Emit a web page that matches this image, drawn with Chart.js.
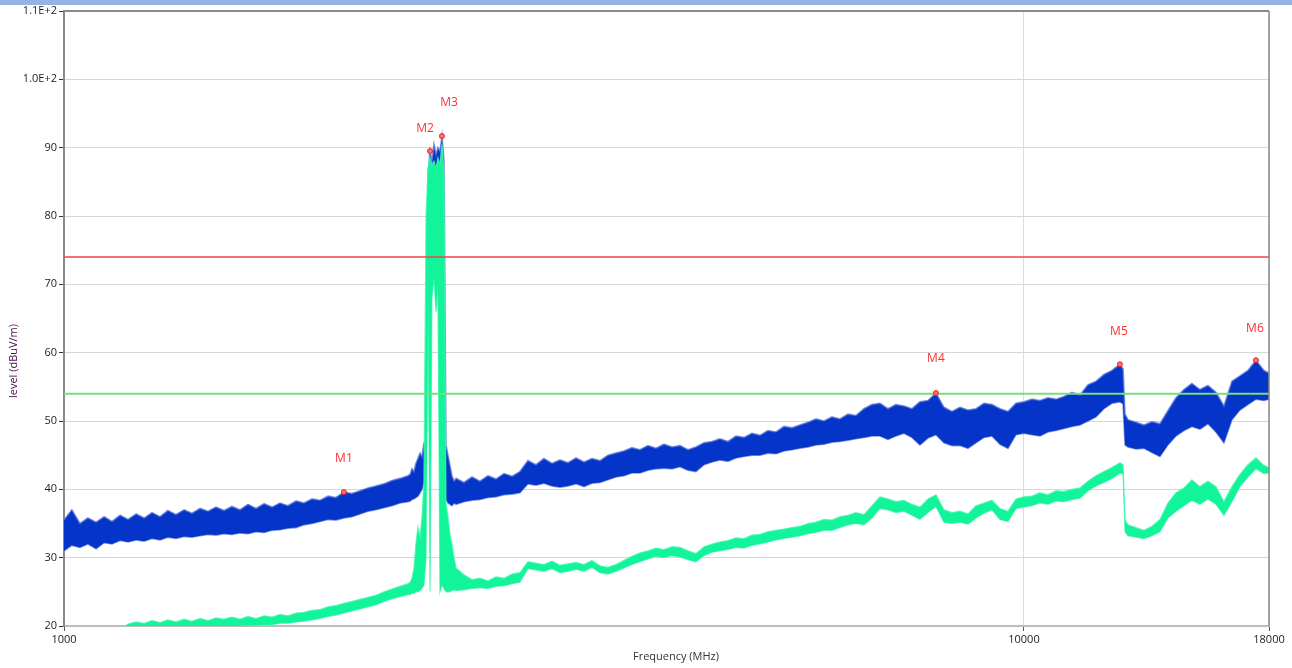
<!DOCTYPE html>
<html>
<head>
<meta charset="utf-8">
<script src="https://cdn.jsdelivr.net/npm/chart.js@4.4.0/dist/chart.umd.min.js"></script>
<style>
  html, body { margin: 0; padding: 0; background: #ffffff; }
  #wrap { position: relative; width: 1292px; height: 668px; overflow: hidden; }
  #topbar { position: absolute; left: 0; top: 0; width: 1292px; height: 5px; background: #93b3e3; z-index: 2; }
  canvas { position: absolute; left: 0; top: 0; }
</style>
</head>
<body>
<div id="wrap">
  <div id="topbar"></div>
  <canvas id="c" width="1292" height="668"></canvas>
</div>
<script>
// ---- data ----
const freqs = [
  1000, 1019, 1039, 1059, 1080, 1101, 1122, 1144, 1166, 1189,
  1212, 1235, 1259, 1283, 1308, 1334, 1359, 1386, 1413, 1440,
  1468, 1496, 1525, 1555, 1585, 1616, 1647, 1679, 1711, 1745,
  1778, 1813, 1848, 1884, 1920, 1957, 1995, 2034, 2073, 2113,
  2154, 2196, 2239, 2282,
  2294, 2304, 2315, 2326, 2337, 2349, 2360, 2371, 2383, 2394, 2406, 2417,
  2429, 2441, 2452, 2464, 2476, 2488, 2500, 2512, 2524, 2536, 2549,
  2561, 2610, 2661, 2712, 2765, 2818, 2873, 2929, 2985, 3043, 3102,
  3162, 3224, 3286, 3350, 3415, 3481, 3548, 3617, 3687, 3758,
  3831, 3905, 3981, 4058, 4137, 4217, 4299, 4382, 4467, 4553,
  4642, 4732, 4823, 4917, 5012, 5109, 5208, 5309, 5412, 5517,
  5623, 5732, 5843, 5957, 6072, 6190, 6310, 6432, 6556, 6683,
  6813, 6945, 7079, 7217, 7356, 7499, 7644, 7792, 7943, 8097,
  8254, 8414, 8577, 8743, 8913, 9085, 9261, 9441, 9624, 9810,
  10000, 10194, 10391, 10593, 10798, 11007, 11220, 11438, 11659, 11885,
  12115, 12350, 12589, 12683, 12744,
  12833, 13082, 13335, 13594, 13857, 14125, 14399,
  14678, 14962, 15252, 15548, 15849, 16156, 16469, 16788, 17113, 17445,
  17783, 18000
];

const peakHigh = [
  35.5, 37.0, 35.0, 35.8, 35.2, 36.0, 35.3, 36.2, 35.6, 36.4,
  35.8, 36.6, 36.0, 36.9, 36.3, 37.0, 36.5, 37.2, 36.8, 37.4,
  36.9, 37.5, 37.0, 37.8, 37.2, 37.9, 37.4, 38.0, 37.6, 38.3,
  38.0, 38.6, 38.4, 39.0, 38.8, 39.6, 39.4, 39.8, 40.2, 40.5,
  40.8, 41.3, 41.6, 42.0,
  42.2, 43.0, 42.6, 43.8, 44.5, 45.3, 44.8, 46.8, 47.0, 86.0, 89.5, 88.0,
  90.5, 89.0, 90.0, 89.5, 91.7, 88.0, 46.5, 45.0, 43.5, 42.0, 41.2,
  41.6, 41.0, 41.8, 41.2, 42.0, 41.5, 42.3, 41.9, 42.6, 44.2, 43.6,
  44.5, 43.8, 44.3, 43.9, 44.6, 44.0, 44.5, 44.2, 45.0, 45.3,
  45.6, 46.1, 45.8, 46.4, 46.0, 46.6, 46.2, 46.4, 45.8, 46.2,
  46.8, 47.0, 47.4, 47.0, 47.8, 47.6, 48.2, 47.9, 48.6, 48.4,
  49.2, 49.0, 49.4, 49.8, 50.3, 50.0, 50.6, 50.3, 51.0, 50.8,
  51.8, 52.4, 52.6, 51.8, 52.4, 52.2, 51.8, 52.8, 53.0, 54.1,
  52.0, 51.4, 52.0, 51.6, 51.8, 52.6, 52.4, 51.8, 51.4, 52.6,
  52.8, 53.2, 53.0, 53.4, 53.2, 53.6, 54.2, 53.8, 55.3, 55.8,
  56.8, 57.4, 58.3, 57.6, 51.0,
  50.2, 49.8, 49.4, 49.9, 49.6, 51.5, 53.4,
  54.6, 55.5, 54.6, 55.2, 54.2, 52.2, 55.8, 56.6, 57.4, 58.9,
  57.4, 57.0
];

const peakLow = [
  31.0, 31.8, 31.5, 32.0, 31.3, 32.2, 32.0, 32.5, 32.3, 32.6,
  32.4, 32.8, 32.6, 33.0, 32.8, 33.1, 33.0, 33.2, 33.4, 33.3,
  33.5, 33.4, 33.6, 33.5, 33.8, 33.7, 34.0, 34.1, 34.3, 34.4,
  34.8, 35.0, 35.3, 35.6, 35.5, 35.8, 36.0, 36.4, 36.8, 37.0,
  37.3, 37.6, 38.0, 38.2,
  38.3, 38.5, 38.6, 38.8, 39.0, 39.5, 40.0, 41.0, 42.0, 76.0, 78.0, 80.0,
  80.0, 79.0, 80.0, 78.0, 76.0, 40.0, 38.5, 38.0, 37.8, 37.6, 38.0,
  37.8, 38.2, 38.4, 38.5, 38.8, 38.9, 39.2, 39.3, 39.5, 40.8, 40.6,
  40.9, 40.5, 40.3, 40.5, 40.8, 40.4, 40.9, 41.0, 41.4, 41.8,
  42.0, 42.4, 42.4, 42.8, 43.0, 43.1, 43.0, 43.3, 42.8, 42.6,
  43.6, 44.0, 44.3, 44.1, 44.6, 44.8, 45.0, 45.0, 45.3, 45.2,
  45.6, 45.8, 46.0, 46.2, 46.5, 46.6, 46.9, 47.0, 47.2, 47.4,
  47.6, 47.8, 47.8, 47.3, 47.8, 48.2, 47.6, 46.5, 47.5, 48.0,
  46.8, 46.4, 46.4, 46.0, 46.8, 47.6, 47.8, 46.6, 46.0, 48.0,
  48.2, 48.0, 47.8, 48.4, 48.6, 48.9, 49.2, 49.4, 50.0, 50.6,
  51.8, 52.6, 52.8, 52.5, 46.5,
  46.2, 45.9, 46.0, 45.4, 44.8, 46.5, 47.8,
  48.6, 49.2, 48.8, 49.6, 48.4, 46.8, 50.2, 51.6, 52.4, 53.2,
  53.0, 53.2
];

const avgHigh = [
  19.5, 19.5, 19.5, 19.5, 19.5, 19.5, 19.5, 19.5, 20.3, 20.6,
  20.4, 20.8, 20.5, 20.9, 20.6, 21.0, 20.7, 21.1, 20.8, 21.2,
  21.0, 21.3, 21.0, 21.4, 21.1, 21.5, 21.3, 21.7, 21.5, 21.9,
  22.0, 22.3, 22.4, 22.8, 23.0, 23.3, 23.6, 23.9, 24.2, 24.5,
  25.0, 25.4, 25.8, 26.2,
  26.4, 27.0, 28.5, 32.0, 34.5, 33.0, 36.0, 41.0, 80.0, 87.0, 88.5, 87.5,
  88.0, 87.0, 88.5, 87.5, 90.5, 86.0, 38.0, 36.0, 33.5, 32.0, 30.0,
  28.5, 27.5, 26.8, 27.0, 26.6, 27.2, 27.0, 27.6, 27.8, 29.4, 29.2,
  29.0, 29.5, 28.9, 29.1, 29.3, 29.0, 29.6, 28.8, 28.6, 29.0,
  29.6, 30.2, 30.7, 31.0, 31.4, 31.2, 31.6, 31.5, 31.0, 30.6,
  31.6, 32.0, 32.3, 32.5, 32.9, 32.8, 33.3, 33.4, 33.8, 34.0,
  34.2, 34.4, 34.6, 35.0, 35.2, 35.6, 35.5, 36.0, 36.2, 36.6,
  36.3, 37.6, 38.9, 38.6, 38.2, 38.4, 37.8, 37.4, 38.6, 39.2,
  37.0, 36.6, 36.8, 36.4, 37.6, 38.0, 38.4, 37.2, 36.8, 38.6,
  38.9, 39.0, 39.5, 39.2, 39.8, 39.7, 40.0, 40.2, 41.2, 42.0,
  42.6, 43.2, 43.9, 43.6, 35.5,
  34.8, 34.4, 34.0, 34.6, 35.6, 38.0, 39.5,
  40.2, 41.4, 40.4, 41.2, 40.4, 38.2, 40.4, 42.2, 43.6, 44.6,
  43.5, 43.2
];

const avgLow = [
  18.5, 18.5, 18.5, 18.5, 18.5, 18.5, 18.5, 18.5, 19.0, 19.0,
  19.0, 19.0, 19.0, 19.2, 19.3, 19.4, 19.5, 19.6, 19.7, 19.8,
  19.9, 20.0, 20.0, 20.1, 20.1, 20.2, 20.2, 20.4, 20.4, 20.6,
  20.7, 20.9, 21.1, 21.4, 21.6, 21.9, 22.2, 22.5, 22.8, 23.1,
  23.6, 24.0, 24.3, 24.6,
  24.6, 24.8, 24.8, 25.0, 25.0, 25.2, 25.5, 26.0, 30.0, 70.0, 25.0, 68.0,
  71.0, 66.0, 70.0, 25.0, 26.0, 25.5, 25.0, 25.0, 25.0, 25.2, 25.3,
  25.2, 25.3, 25.5, 25.6, 25.5, 25.8, 25.9, 26.2, 26.4, 28.4, 28.2,
  28.0, 28.4, 27.8, 28.0, 28.3, 28.0, 28.6, 27.8, 27.6, 28.0,
  28.5, 29.0, 29.4, 29.8, 30.2, 30.0, 30.3, 30.1, 29.7, 29.4,
  30.3, 30.8, 31.0, 31.2, 31.5, 31.4, 31.8, 32.0, 32.3, 32.6,
  32.8, 33.0, 33.2, 33.5, 33.7, 34.0, 34.0, 34.4, 34.8, 35.0,
  34.8, 35.8, 37.2, 37.0, 36.6, 36.8, 36.2, 35.6, 36.6, 37.5,
  35.2, 35.0, 35.2, 34.9, 35.8, 36.5, 37.0, 35.6, 35.3, 37.2,
  37.4, 37.6, 38.0, 37.8, 38.3, 38.2, 38.5, 38.7, 39.8, 40.5,
  41.0, 41.6, 42.4, 42.2, 33.8,
  33.2, 33.0, 32.8, 33.2, 33.8, 35.8, 36.8,
  37.6, 38.4, 37.8, 38.6, 37.8, 36.2, 38.2, 40.4, 41.8, 43.0,
  42.3, 42.4
];

const limitPeak = 74;
const limitAvg = 54;

const markerNames = ['M1', 'M2', 'M3', 'M4', 'M5', 'M6'];
const markerFreqs = [1957, 2406, 2476, 8097, 12589, 17445];
const markerLevels = [39.6, 89.5, 91.7, 54.1, 58.3, 58.9];

const xTickValues = [1000, 10000, 18000];
const yTickValues = [20, 30, 40, 50, 60, 70, 80, 90, 100, 110];

// ---- build chart ----
const pts = (vals) => freqs.map((f, i) => ({ x: f, y: vals[i] }));
const xMin = xTickValues[0], xMax = xTickValues[xTickValues.length - 1];

const labelOffsets = { M1: [0, -33], M2: [-5, -23], M3: [7, -33], M4: [0, -34], M5: [-1, -33], M6: [-1, -32] };

const framePlugin = {
  id: 'frame',
  afterDraw(chart) {
    const { ctx, chartArea: a, scales } = chart;
    ctx.save();
    ctx.strokeStyle = '#8a8a8a';
    ctx.lineWidth = 2;
    ctx.beginPath();
    ctx.moveTo(a.left, a.top);
    ctx.lineTo(a.right, a.top);
    ctx.stroke();
    ctx.lineWidth = 1.5;
    ctx.beginPath();
    ctx.moveTo(a.right, a.top);
    ctx.lineTo(a.right, a.bottom);
    ctx.stroke();
    ctx.font = '12px "Open Sans", sans-serif';
    ctx.fillStyle = '#ff3030';
    ctx.textAlign = 'center';
    ctx.textBaseline = 'middle';
    markerNames.forEach((n, i) => {
      const px = scales.x.getPixelForValue(markerFreqs[i]);
      const py = scales.y.getPixelForValue(markerLevels[i]);
      const o = labelOffsets[n];
      ctx.fillText(n, px + o[0], py + o[1]);
    });
    ctx.fillStyle = '#333333';
    ctx.font = '11px "Open Sans", sans-serif';
    ctx.fillText('Frequency (MHz)', 676, 657);
    ctx.translate(14, 361);
    ctx.rotate(-Math.PI / 2);
    ctx.fillStyle = '#4a0a4a';
    ctx.fillText('level (dBuV/m)', 0, 0);
    ctx.restore();
  }
};

new Chart(document.getElementById('c'), {
  type: 'line',
  data: {
    datasets: [
      { data: pts(peakHigh), borderColor: 'rgba(80,110,215,0.7)', borderWidth: 1.6, backgroundColor: '#0535c8',
        fill: '+1', pointRadius: 0, tension: 0, order: 6 },
      { data: pts(peakLow), borderColor: 'rgba(80,110,215,0.7)', borderWidth: 1.6, fill: false,
        pointRadius: 0, tension: 0, order: 6 },
      { data: pts(avgHigh), borderColor: 'rgba(70,248,175,0.8)', borderWidth: 1.2, backgroundColor: '#12f49a',
        fill: '+1', pointRadius: 0, tension: 0, order: 4 },
      { data: pts(avgLow), borderColor: 'rgba(70,248,175,0.8)', borderWidth: 1.2, fill: false,
        pointRadius: 0, tension: 0, order: 4 },
      { data: [{ x: xMin, y: limitPeak }, { x: xMax, y: limitPeak }], borderColor: '#f04545', borderWidth: 1.3,
        pointRadius: 0, fill: false, order: 2 },
      { data: [{ x: xMin, y: limitAvg }, { x: xMax, y: limitAvg }], borderColor: '#78dc80', borderWidth: 2,
        pointRadius: 0, fill: false, order: 2 },
      { data: markerFreqs.map((f, i) => ({ x: f, y: markerLevels[i] })), showLine: false,
        pointRadius: 2.5, pointBackgroundColor: '#ff7070', pointBorderColor: '#e82020', pointBorderWidth: 1, order: 1 }
    ]
  },
  options: {
    responsive: false,
    animation: false,
    layout: { padding: { left: 0, top: 11, right: 23, bottom: 0 } },
    plugins: { legend: { display: false }, tooltip: { enabled: false } },
    scales: {
      x: {
        type: 'logarithmic', min: xMin, max: xMax,
        afterBuildTicks: (s) => { s.ticks = xTickValues.map(v => ({ value: v })); },
        afterFit: (s) => { s.height = 42; },
        ticks: { callback: (v) => String(v), color: '#222', font: { family: 'Open Sans', size: 11 },
                 maxRotation: 0, autoSkip: false, padding: 2 },
        grid: { color: '#dcdcdc', tickColor: '#555', tickLength: 5, lineWidth: 1 },
        border: { color: '#bdbdbd', width: 2 }
      },
      y: {
        min: 20, max: 110,
        afterBuildTicks: (s) => { s.ticks = yTickValues.map(v => ({ value: v })); },
        afterFit: (s) => { s.width = 64; },
        ticks: { callback: (v) => v >= 100 ? (v / 100).toFixed(1) + 'E+2' : String(v), color: '#2a1a10',
                 font: { family: 'Open Sans', size: 11 }, padding: 2 },
        grid: { color: '#d6d6d6', tickColor: '#333', tickLength: 5, lineWidth: 1 },
        border: { color: '#8a8a8a', width: 2 }
      }
    }
  },
  plugins: [framePlugin]
});
</script>
</body>
</html>
